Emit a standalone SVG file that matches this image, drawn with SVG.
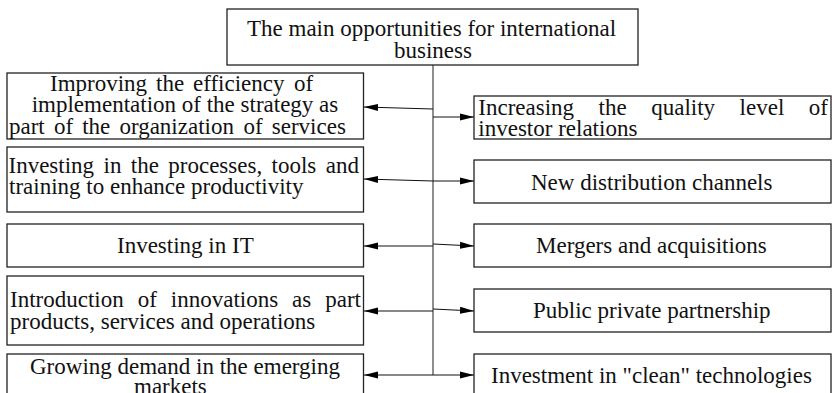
<svg xmlns="http://www.w3.org/2000/svg" width="832" height="393" viewBox="0 0 832 393">
<defs>
<style>
.box{fill:#fff;stroke:#222;stroke-width:1.3}
.t{font-family:"Liberation Serif","Times New Roman",serif;font-size:23px;fill:#111}
.ln{fill:none;stroke:#444;stroke-width:1.2}
.ar{fill:none;stroke:#111;stroke-width:1.2;marker-end:url(#ah)}
</style>
<marker id="ah" markerUnits="userSpaceOnUse" markerWidth="14" markerHeight="8" refX="14" refY="4" orient="auto">
<path d="M0,0.5 L14,4 L0,7.5 z" fill="#000"/>
</marker>
</defs>
<rect width="832" height="393" fill="#fff"/>
<g id="connectors">
<line class="ln" x1="433" y1="65" x2="433" y2="375"/>
<line class="ar" x1="433" y1="109" x2="364" y2="107"/>
<line class="ar" x1="433" y1="117" x2="474" y2="117"/>
<line class="ar" x1="433" y1="181" x2="364" y2="179"/>
<line class="ar" x1="433" y1="181" x2="474" y2="181"/>
<line class="ar" x1="433" y1="246" x2="364" y2="246"/>
<line class="ar" x1="433" y1="244" x2="474" y2="246"/>
<line class="ar" x1="433" y1="311" x2="364" y2="311"/>
<line class="ar" x1="433" y1="309" x2="474" y2="311"/>
<line class="ar" x1="433" y1="375" x2="364" y2="375"/>
<line class="ar" x1="433" y1="375" x2="474" y2="375"/>
</g>
<g id="top">
<rect class="box" x="227" y="9" width="411" height="56"/>
<text class="t"><tspan x="247" y="36">The main opportunities for international</tspan><tspan x="394" y="57.5">business</tspan></text>
</g>
<g id="left1">
<rect class="box" x="7" y="73" width="356.5" height="66"/>
<text class="t"><tspan x="50" y="90.5">Improving</tspan><tspan x="156">the</tspan><tspan x="193">efficiency</tspan><tspan x="293.9">of</tspan><tspan x="31.7" y="112">implementation of the strategy as</tspan><tspan x="9" y="133.5">part</tspan><tspan x="53.9">of</tspan><tspan x="82.2">the</tspan><tspan x="119.4">organization</tspan><tspan x="243.5">of</tspan><tspan x="271.8">services</tspan></text>
</g>
<g id="left2">
<rect class="box" x="7" y="147" width="356.5" height="65"/>
<text class="t"><tspan x="8.5" y="172.5">Investing</tspan><tspan x="103.5">in</tspan><tspan x="130.8">the</tspan><tspan x="168.3">processes,</tspan><tspan x="271.6">tools</tspan><tspan x="325.7">and</tspan><tspan x="9" y="194">training to enhance productivity</tspan></text>
</g>
<g id="left3">
<rect class="box" x="7" y="224" width="356.5" height="43"/>
<text class="t" x="117" y="253">Investing in IT</text>
</g>
<g id="left4">
<rect class="box" x="7" y="276" width="356.5" height="69"/>
<text class="t"><tspan x="10" y="307">Introduction</tspan><tspan x="137.7">of</tspan><tspan x="170.8">innovations</tspan><tspan x="292">as</tspan><tspan x="325.2">part</tspan><tspan x="10" y="328.5">products, services and operations</tspan></text>
</g>
<g id="left5">
<rect class="box" x="7" y="354" width="356.5" height="60"/>
<text class="t"><tspan x="30" y="373.5">Growing demand in the emerging</tspan><tspan x="134" y="394">markets</tspan></text>
</g>
<g id="right1">
<rect class="box" x="474" y="96" width="357" height="43"/>
<text class="t"><tspan x="478.3" y="114.5">Increasing</tspan><tspan x="598.6">the</tspan><tspan x="651.2">quality</tspan><tspan x="739.6">level</tspan><tspan x="808.8">of</tspan><tspan x="478.3" y="136">investor relations</tspan></text>
</g>
<g id="right2">
<rect class="box" x="474" y="160" width="357" height="43"/>
<text class="t" x="531" y="189.5">New distribution channels</text>
</g>
<g id="right3">
<rect class="box" x="474" y="224" width="357" height="43"/>
<text class="t" x="536" y="253">Mergers and acquisitions</text>
</g>
<g id="right4">
<rect class="box" x="474" y="289" width="357" height="43"/>
<text class="t" x="533" y="318">Public private partnership</text>
</g>
<g id="right5">
<rect class="box" x="474" y="354" width="357" height="60"/>
<text class="t" x="491" y="382.5">Investment in "clean" technologies</text>
</g>
</svg>
